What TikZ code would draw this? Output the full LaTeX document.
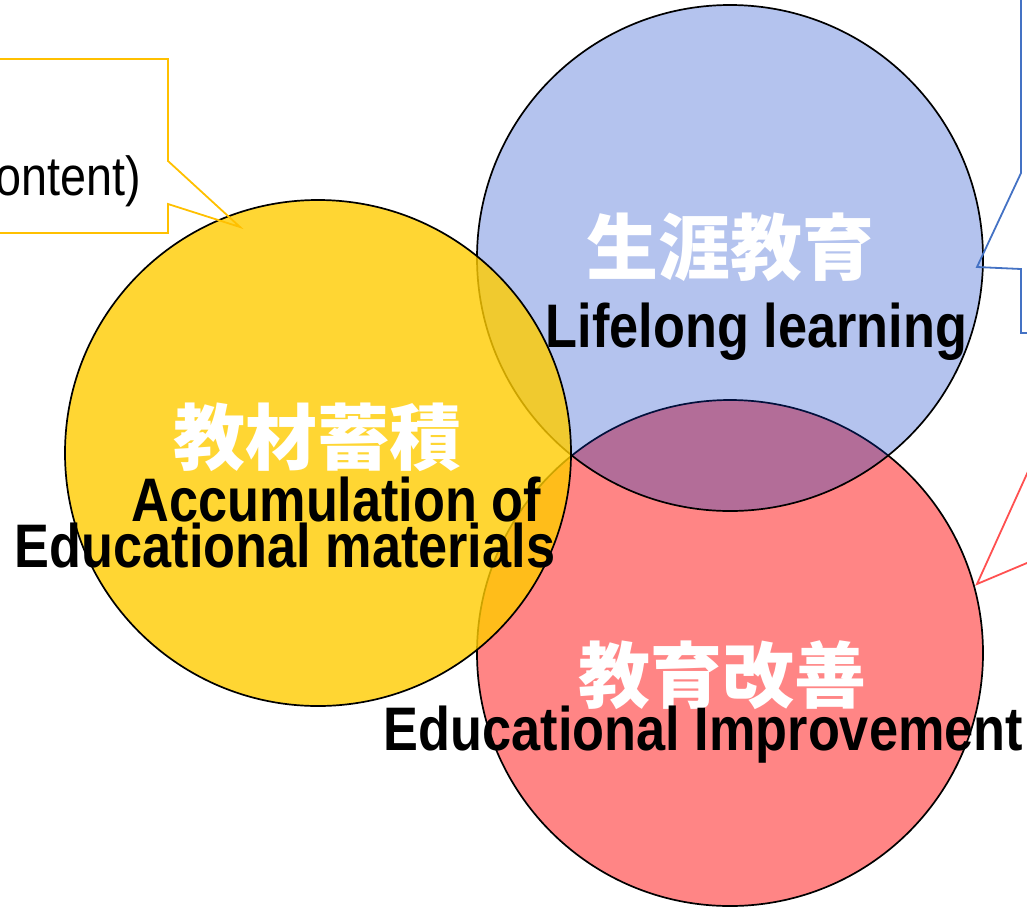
\documentclass[tikz,border=0pt]{standalone}
\usepackage{fontspec}
\setmainfont{Liberation Sans}[FakeStretch=0.85]
\newfontfamily\cjkfont{Noto Sans CJK JP}
\definecolor{matGold}{HTML}{FFCC00}
\definecolor{lifeBlue}{HTML}{0537C6}
\definecolor{eduRed}{HTML}{FF8585}
\definecolor{noteGold}{HTML}{FFC000}
\definecolor{noteBlue}{HTML}{4472C4}
\definecolor{noteRed}{HTML}{FF5050}
\def \circleRadius {253pt}
\def \titleSize {\fontsize{72}{72}\selectfont}
\def \lineSize {\fontsize{61.5}{61.5}\selectfont}
\tikzset{
  ring/.style={draw=black, line width=1.7pt},
  note/.style={line width=1.8pt, line join=miter},
  cjkText/.style={text=white, font=\cjkfont\bfseries\titleSize, inner sep=0pt, anchor=base},
  engText/.style={text=black, font=\bfseries\lineSize, inner sep=0pt, anchor=base}
}

\begin{document}
\begin{tikzpicture}[x=1pt, y=-1pt]
   \useasboundingbox (0,0) rectangle (1027,906);
   \coordinate (matCenter) at (318,453);
   \coordinate (lifeCenter) at (730,258);
   \coordinate (eduCenter) at (730,653);

   \filldraw[ring, fill=eduRed] (eduCenter) circle (\circleRadius);
   \filldraw[ring, fill=lifeBlue, fill opacity=0.3] (lifeCenter) circle (\circleRadius);
   \filldraw[ring, fill=matGold, fill opacity=0.8] (matCenter) circle (\circleRadius);

   % callouts, cut by the page edge
   \draw[note, draw=noteGold] (-10,59) -- (168,59) -- (168,161) -- (240,227) -- (168,204) -- (168,233) -- (-10,233);
   \draw[note, draw=noteBlue] (1021,-10) -- (1021,173) -- (977,267) -- (1021,269) -- (1021,333) -- (1040,333);
   \draw[note, draw=noteRed] (1040,445) -- (977,584) -- (1040,557.5);
   \node[font=\fontsize{55}{55}\selectfont, anchor=base east, inner sep=0pt] (noteText) at (141,195) {ontent)};

   \node[cjkText] (matTitle) at (317.5,464) {教材蓄積};
   \node[engText] (matLineA) at (336.5,521) {Accumulation of};
   \node[engText] (matLineB) at (285,567) {Educational materials};
   \node[cjkText] (lifeTitle) at (730,274) {生涯教育};
   \node[engText] (lifeLine) at (756.5,347) {Lifelong learning};
   \node[cjkText] (eduTitle) at (722.5,702) {教育改善};
   \node[engText] (eduLine) at (703.5,750) {Educational Improvement};
\end{tikzpicture}
\end{document}
